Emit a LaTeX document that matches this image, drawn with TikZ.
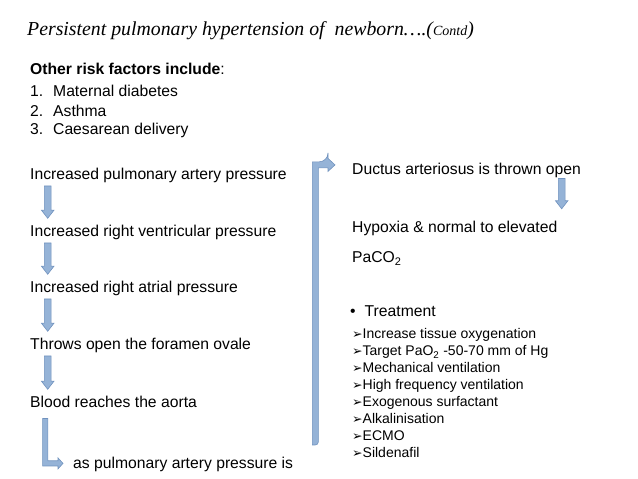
\documentclass[tikz,border=0pt]{standalone}
\usepackage{fontspec}
\setmainfont{Liberation Sans}
\newfontfamily\titlefont{Liberation Serif}
\newfontfamily\symfont{DejaVu Sans}
\usetikzlibrary{calc}

\definecolor{arrowfill}{RGB}{149,179,215}
\definecolor{arrowline}{RGB}{112,146,190}

\tikzset{
	txt/.style={anchor=base west, inner sep=0pt, text height=11.5pt, text depth=3.3pt, font=\fontsize{15.7}{18}\selectfont},
	treat/.style={txt, font=\fontsize{14}{16}\selectfont},
	blockarrow/.style={fill=arrowfill, draw=arrowline, line width=0.6pt}
}

% down block arrow: from node #1 to node #2, at x = #3, gaps #4 and #5
\newcommand{\blockdown}[5]{%
	\draw[blockarrow] let \p1=(#1.south), \p2=(#2.north) in
		(#3pt-3.4pt,\y1-#4) -- (#3pt+3.4pt,\y1-#4) -- (#3pt+3.4pt,\y2+#5+8pt) --
		(#3pt+6.2pt,\y2+#5+8pt) -- (#3pt,\y2+#5) -- (#3pt-6.2pt,\y2+#5+8pt) --
		(#3pt-3.4pt,\y2+#5+8pt) -- cycle;}

\newcommand{\mk}{{\symfont\fontsize{12.5}{13}\selectfont ➢}}

\begin{document}
\begin{tikzpicture}[x=1pt,y=1pt]
		\useasboundingbox (0, 0) rectangle (638, 479);
		
		% title
		\node[anchor=base west, inner sep=0pt] (title) at (27, 443.5)
			{\titlefont\itshape\fontsize{19.8}{24}\selectfont Persistent pulmonary hypertension of\ \ newborn….({\fontsize{14}{18}\selectfont Contd})};
		
		% risk factors
		\node[txt] (risk) at (30, 404) {\textbf{Other risk factors include}:};
		\node[txt] (rf1) at (30, 382.5) {\makebox[23pt][l]{1.}Maternal diabetes};
		\node[txt] (rf2) at (30, 362.5) {\makebox[23pt][l]{2.}Asthma};
		\node[txt] (rf3) at (30, 344.4) {\makebox[23pt][l]{3.}Caesarean delivery};
		
		% left chain
		\node[txt] (pap) at (30, 299) {Increased pulmonary artery pressure};
		\node[txt] (rvp) at (30, 242) {Increased right ventricular pressure};
		\node[txt] (rap) at (30, 186) {Increased right atrial pressure};
		\node[txt] (fo) at (30, 129) {Throws open the foramen ovale};
		\node[txt] (aorta) at (30, 71) {Blood reaches the aorta};
		\node[txt] (aspap) at (73, 10) {as pulmonary artery pressure is};
		
		\blockdown{pap}{rvp}{47.7}{2.5pt}{7pt}
		\blockdown{rvp}{rap}{47.7}{2.5pt}{7pt}
		\blockdown{rap}{fo}{47.7}{2.5pt}{7pt}
		\blockdown{fo}{aorta}{47.7}{2.5pt}{7pt}
		
		% bent arrow to the last line
		\draw[blockarrow] let \p1=(aorta.south), \p2=(aspap.west) in
			(42.6pt,\y1-7pt) -- (47.8pt,\y1-7pt) -- (47.8pt,\y2+4.1pt) -- (58pt,\y2+4.1pt) --
			(58pt,\y2+7pt) -- (63pt,\y2+1.5pt) -- (58pt,\y2-4pt) -- (58pt,\y2-1.1pt) --
			(42.6pt,\y2-1.1pt) -- cycle;
		
		% long arrow up to the right column
		\coordinate (upstart) at (315.3, 34);
		\node[txt] (ductus) at (352, 304) {Ductus arteriosus is thrown open};
		\draw[blockarrow] let \p1=(upstart), \p2=(ductus.west) in
			(\x1-3pt,\y1) -- (\x1-3pt,\y2+9pt) [rounded corners=9pt] -- (328pt,\y2+9pt) [sharp corners] --
			(328pt,\y2+12.5pt) -- (335pt,\y2+6pt) -- (328pt,\y2-0.5pt) -- (328pt,\y2+3pt) --
			(\x1+3pt,\y2+3pt) [rounded corners=3pt] -- (\x1+3pt,\y1) [sharp corners] -- cycle;
		
		% right column
		\node[txt] (hyp) at (352, 246) {Hypoxia \& normal to elevated};
		\node[txt] (paco) at (352, 216) {PaCO\textsubscript{2}};
		\blockdown{ductus}{hyp}{561.7}{0pt}{12.5pt}
		
		\node[txt] (treat) at (350, 162.4) {\textbullet\hspace{9pt}Treatment};
		\node[treat] (t1) at (352, 140) {\mk Increase tissue oxygenation};
		\node[treat] (t2) at (352, 123) {\mk Target PaO\textsubscript{2} -50-70 mm of Hg};
		\node[treat] (t3) at (352, 106) {\mk Mechanical ventilation};
		\node[treat] (t4) at (352, 89) {\mk High frequency ventilation};
		\node[treat] (t5) at (352, 72) {\mk Exogenous surfactant};
		\node[treat] (t6) at (352, 55) {\mk Alkalinisation};
		\node[treat] (t7) at (352, 38) {\mk ECMO};
		\node[treat] (t8) at (352, 21) {\mk Sildenafil};
		
	\end{tikzpicture}
\end{document}
